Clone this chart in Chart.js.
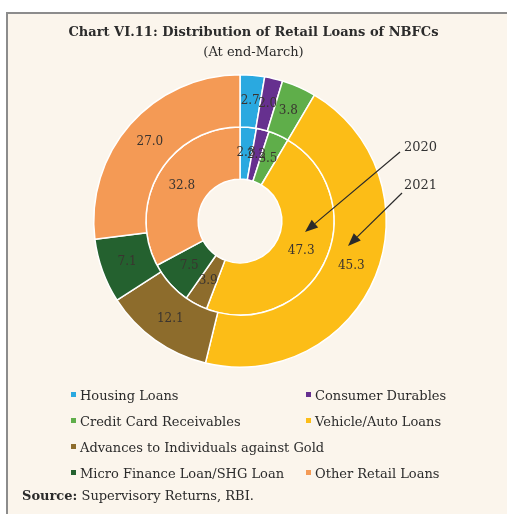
<!DOCTYPE html>
<html>
<head>
<meta charset="utf-8">
<script src="https://cdn.jsdelivr.net/npm/chart.js@4.4.0/dist/chart.umd.min.js"></script>
<style>
  html, body { margin: 0; padding: 0; background: #fff; }
  #wrap { position: absolute; left: 0; top: 0; width: 507px; height: 514px; overflow: hidden;
          font-family: "DejaVu Serif", serif; color: #2b2b2b; }
  #frame { position: absolute; left: 6px; top: 12px; width: 520px; height: 520px;
           background: #fbf5ec; border-left: 2px solid #8c8c8c; border-top: 2px solid #8c8c8c; }
  canvas { position: absolute; left: 0; top: 0; }
  .title { position: absolute; left: 0; width: 507px; text-align: center; top: 24px;
           font-weight: bold; font-size: 13px; }
  .subtitle { position: absolute; left: 0; width: 507px; text-align: center; top: 44px; font-size: 13px; }
  .lg { position: absolute; font-size: 13px; line-height: 16px; white-space: nowrap; }
  .lg i { display: inline-block; width: 5px; height: 5px; margin-right: 4px; vertical-align: 3px; }
  .source { position: absolute; left: 22px; top: 488px; font-size: 13px; }
</style>
</head>
<body>
<div id="wrap">
  <div id="frame"></div>
  <canvas id="donut" width="507" height="514"></canvas>
  <div class="title">Chart VI.11: Distribution of Retail Loans of NBFCs</div>
  <div class="subtitle">(At end-March)</div>
  <div id="legend"></div>
  <div class="source"><b>Source:</b> Supervisory Returns, RBI.</div>
</div>
<script>
// categories and values (per cent share)
var categories = ['Housing Loans', 'Consumer Durables', 'Credit Card Receivables', 'Vehicle/Auto Loans',
                  'Advances to Individuals against Gold', 'Micro Finance Loan/SHG Loan', 'Other Retail Loans']
var years = ['2021', '2020']
var values2021 = [2.7, 2.0, 3.8, 45.3, 12.1, 7.1, 27.0]
var values2020 = [2.8, 2.2, 3.5, 47.3, 3.9, 7.5, 32.8]
var colors = ['#2aa9e0', '#66308f', '#5fae4a', '#fcbd17', '#8d6c2c', '#24612f', '#f49a55']

//- LEGEND (two columns, gold item on its own row) -
var legendRows = [[0, 1], [2, 3], [4], [5, 6]]
var legendHtml = ''
legendRows.forEach(function (row, r) {
  row.forEach(function (idx, c) {
    legendHtml += '<div class="lg" style="left:' + (c === 0 ? 71 : 306) + 'px;top:' + (388 + r * 26) + 'px">' +
      '<i style="background:' + colors[idx] + '"></i>' + categories[idx] + '</div>'
  })
})
document.getElementById('legend').innerHTML = legendHtml

// value labels and year arrows
var labelPlugin = {
  id: 'sliceLabels',
  afterDatasetsDraw: function (chart) {
    var ctx = chart.ctx
    ctx.save()
    ctx.font = '12px "DejaVu Serif"'
    ctx.fillStyle = '#3a3430'
    ctx.textAlign = 'center'
    ctx.textBaseline = 'middle'
    chart.data.datasets.forEach(function (ds, i) {
      chart.getDatasetMeta(i).data.forEach(function (arc, j) {
        var p = arc.tooltipPosition()
        ctx.fillText(ds.data[j].toFixed(1), p.x, p.y)
      })
    })

    var first = chart.getDatasetMeta(0).data[0]
    var cx = first.x, cy = first.y
    var arrows = [
      { text: years[1], from: [160, -69], to: [65, 11], at: [164, -73] },
      { text: years[0], from: [162, -28], to: [108, 25], at: [164, -35] }
    ]
    ctx.strokeStyle = '#2a2a2a'
    ctx.fillStyle = '#2a2a2a'
    ctx.lineWidth = 1.2
    ctx.font = '13px "DejaVu Serif"'
    ctx.textAlign = 'left'
    arrows.forEach(function (a) {
      var x1 = cx + a.from[0], y1 = cy + a.from[1]
      var x2 = cx + a.to[0], y2 = cy + a.to[1]
      var ang = Math.atan2(y2 - y1, x2 - x1)
      var hl = 13, hw = 5
      var bx = x2 - hl * Math.cos(ang), by = y2 - hl * Math.sin(ang)
      ctx.beginPath()
      ctx.moveTo(x1, y1)
      ctx.lineTo(bx, by)
      ctx.stroke()
      ctx.beginPath()
      ctx.moveTo(x2, y2)
      ctx.lineTo(bx + hw * Math.sin(ang), by - hw * Math.cos(ang))
      ctx.lineTo(bx - hw * Math.sin(ang), by + hw * Math.cos(ang))
      ctx.closePath()
      ctx.fill()
      ctx.fillStyle = '#333'
      ctx.fillText(a.text, cx + a.at[0], cy + a.at[1])
      ctx.fillStyle = '#2a2a2a'
    })
    ctx.restore()
  }
}

var donutCanvas = document.getElementById('donut').getContext('2d')
var donutChart = new Chart(donutCanvas, {
  type: 'doughnut',
  data: {
    labels: categories,
    datasets: [
      { label: years[0], data: values2021, backgroundColor: colors, borderColor: '#ffffff', borderWidth: 1.5 },
      { label: years[1], data: values2020, backgroundColor: colors, borderColor: '#ffffff', borderWidth: 1.5 }
    ]
  },
  options: {
    responsive: false,
    animation: false,
    cutout: '28.6%',
    layout: { padding: { left: 93, right: 120, top: 74, bottom: 146 } },
    plugins: {
      legend: { display: false },
      tooltip: { enabled: false }
    }
  },
  plugins: [labelPlugin]
})
</script>
</body>
</html>
